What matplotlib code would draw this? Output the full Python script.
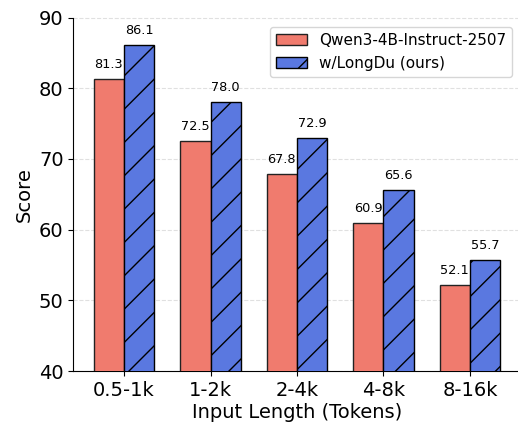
import matplotlib
matplotlib.use("Agg")
import matplotlib.pyplot as plt
import numpy as np

categories = ["0.5-1k", "1-2k", "2-4k", "4-8k", "8-16k"]
baseline = [81.3, 72.5, 67.8, 60.9, 52.1]
ours = [86.1, 78.0, 72.9, 65.6, 55.7]
series_names = ["Qwen3-4B-Instruct-2507", "w/LongDu (ours)"]

W, H = 518, 423
fig = plt.figure(figsize=(W / 100, H / 100), dpi=100)
ax = fig.add_axes([73.4 / W, (H - 371) / H, (520.6 - 73.4) / W, (371 - 17.5) / H])

x = np.arange(len(categories))
w = 0.35
ax.bar(x - w / 2, baseline, w, color="#F07B6E", edgecolor="#222222", linewidth=1.0,
       label=series_names[0], zorder=3)
ax.bar(x + w / 2, ours, w, color="#5A78E0", edgecolor="black", linewidth=1.0,
       hatch="/", label=series_names[1], zorder=3)

for xi, v in zip(x - w / 2, baseline):
    ax.text(xi, v + 1.2, f"{v:.1f}", ha="center", va="bottom", fontsize=9.3)
for xi, v in zip(x + w / 2, ours):
    ax.text(xi, v + 1.2, f"{v:.1f}", ha="center", va="bottom", fontsize=9.3)

ax.set_ylim(40, 90)
ax.set_xlim(-0.585, 4.585)
ax.set_xticks(x)
ax.set_xticklabels(categories, fontsize=14)
ax.tick_params(axis="y", labelsize=14)
ax.set_yticks([40, 50, 60, 70, 80, 90])
ax.set_xlabel("Input Length (Tokens)", fontsize=14, labelpad=2)
ax.set_ylabel("Score", fontsize=14)
ax.yaxis.grid(True, linestyle="--", color="#cccccc", alpha=0.6, zorder=0)
ax.set_axisbelow(True)
for s in ["top", "right"]:
    ax.spines[s].set_visible(False)
ax.legend(loc="upper right", fontsize=11, frameon=True, bbox_to_anchor=(0.998, 0.995))

fig.savefig("out.png", dpi=100)
